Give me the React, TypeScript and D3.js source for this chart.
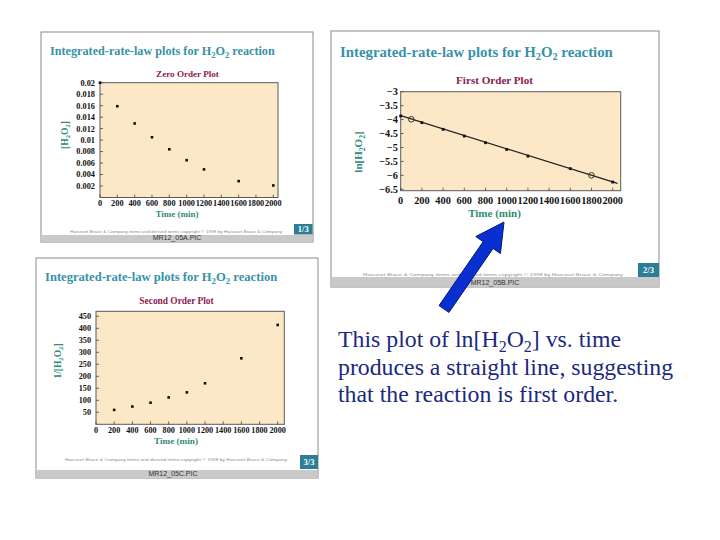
import React from "react";
import * as d3 from "d3";

// ---- data ----
const zeroTimes = [0, 200, 400, 600, 800, 1000, 1200, 1600, 2000];
const zeroConc = [0.02, 0.0159, 0.0129, 0.0105, 0.0084, 0.0065, 0.0049, 0.00285, 0.0021];

const firstTimes = [0, 200, 400, 600, 800, 1000, 1200, 1600, 2000];
const firstLn = [-3.87, -4.11, -4.35, -4.59, -4.83, -5.07, -5.31, -5.76, -6.24];
const firstOpenTimes = [100, 1800];
const firstOpenLn = [-3.99, -6.0];
const firstFitTimes = [0, 2045];
const firstFitLn = [-3.86, -6.29];

const secondTimes = [200, 400, 600, 800, 1000, 1200, 1600, 2000];
const secondInv = [60, 74, 90, 112, 133, 171, 275, 414];

const xTickValues = [0, 200, 400, 600, 800, 1000, 1200, 1400, 1600, 1800, 2000];
const zeroYTicks = [0.002, 0.004, 0.006, 0.008, 0.01, 0.012, 0.014, 0.016, 0.018, 0.02];
const firstYTicks = [-3, -3.5, -4, -4.5, -5, -5.5, -6, -6.5];
const secondYTicks = [50, 100, 150, 200, 250, 300, 350, 400, 450];

const SERIF = "'Liberation Serif', 'Times New Roman', Times, serif";
const TITLE_C = "#3792a9";
const SUB_C = "#8a2150";
const AXLAB_C = "#2f8c78";
const PLOT_FILL = "#fce8c6";
const FOOTER_TEXT = "Harcourt Brace & Company items and derived items copyright \u00a9 1998 by Harcourt Brace & Company";

type Cfg = {
  frame: [number, number, number, number];
  titleX: number; titleY: number; titleSize: number;
  sub: string; subX: number; subY: number; subSize: number;
  plot: [number, number, number, number];
  xRange: [number, number];
  yDomain: [number, number]; yRange: [number, number];
  yTicks: number[]; yFmt: (v: number) => string;
  tickFont: number; yLabX: number; xLabY: number;
  xTitleX: number; xTitleY: number; xTitleSize: number;
  yTitle: [string, string, string, string, string]; yTitleX: number; yTitleY: number; yTitleSize: number;
  footY: number; footX0: number; footX1: number;
  barY0: number; barY1: number; pic: string; picX: number;
  page: [number, number, number, number]; pageText: string;
};

function Panel({ c, children }: { c: Cfg; children: (x: any, y: any) => React.ReactNode }) {
  const [fx, fy, fw, fh] = c.frame;
  const [px0, py0, px1, py1] = c.plot;
  const x = d3.scaleLinear().domain([0, 2000]).range(c.xRange);
  const y = d3.scaleLinear().domain(c.yDomain).range(c.yRange);
  const subSz = c.titleSize * 0.7;
  const ySub = c.yTitleSize * 0.7;
  return (
    <g>
      <rect x={fx} y={fy} width={fw} height={fh} fill="#fff" stroke="#8a8a8a" strokeWidth={1} />
      <text x={c.titleX} y={c.titleY} fontFamily={SERIF} fontWeight="bold" fontSize={c.titleSize} fill={TITLE_C}>
        Integrated-rate-law plots for H
        <tspan fontSize={subSz} dy={c.titleSize * 0.25}>2</tspan>
        <tspan dy={-c.titleSize * 0.25}>O</tspan>
        <tspan fontSize={subSz} dy={c.titleSize * 0.25}>2</tspan>
        <tspan dy={-c.titleSize * 0.25}> reaction</tspan>
      </text>
      <text x={c.subX} y={c.subY} textAnchor="middle" fontFamily={SERIF} fontWeight="bold" fontSize={c.subSize} fill={SUB_C}>
        {c.sub}
      </text>
      <rect x={px0} y={py0} width={px1 - px0} height={py1 - py0} fill={PLOT_FILL} stroke="#5a5a5a" strokeWidth={1} />
      {xTickValues.map((t) => (
        <g key={"xt" + t}>
          <line x1={x(t)} x2={x(t)} y1={py1} y2={py1 - 3} stroke="#444" strokeWidth={0.8} />
          <text x={x(t)} y={c.xLabY} textAnchor="middle" fontFamily={SERIF} fontWeight="bold" fontSize={c.tickFont} fill="#111">
            {t}
          </text>
        </g>
      ))}
      {c.yTicks.map((t) => (
        <g key={"yt" + t}>
          <line x1={px0} x2={px0 + 3} y1={y(t)} y2={y(t)} stroke="#444" strokeWidth={0.8} />
          <text x={c.yLabX} y={y(t) + c.tickFont * 0.35} textAnchor="end" fontFamily={SERIF} fontWeight="bold" fontSize={c.tickFont} fill="#111">
            {c.yFmt(t)}
          </text>
        </g>
      ))}
      {children(x, y)}
      <text x={c.xTitleX} y={c.xTitleY} textAnchor="middle" fontFamily={SERIF} fontWeight="bold" fontSize={c.xTitleSize} fill={AXLAB_C}>
        Time (min)
      </text>
      <text transform={`translate(${c.yTitleX},${c.yTitleY}) rotate(-90)`} textAnchor="middle" fontFamily={SERIF} fontWeight="bold" fontSize={c.yTitleSize} fill={AXLAB_C}>
        {c.yTitle[0]}
        <tspan fontSize={ySub} dy={c.yTitleSize * 0.25}>{c.yTitle[1]}</tspan>
        <tspan dy={-c.yTitleSize * 0.25}>{c.yTitle[2]}</tspan>
        <tspan fontSize={ySub} dy={c.yTitleSize * 0.25}>{c.yTitle[3]}</tspan>
        <tspan dy={-c.yTitleSize * 0.25}>{c.yTitle[4]}</tspan>
      </text>
      <text x={c.footX0} y={c.footY} textLength={c.footX1 - c.footX0} lengthAdjust="spacingAndGlyphs" fontFamily="'Liberation Sans', Arial, sans-serif" fontSize={3.6} fill="#8c8c8c">
        {FOOTER_TEXT}
      </text>
      <rect x={fx + 0.5} y={c.barY0} width={fw - 1} height={c.barY1 - c.barY0} fill="#c9c9c9" />
      <text x={c.picX} y={c.barY1 - 1.8} textAnchor="middle" fontFamily="'Liberation Sans', Arial, sans-serif" fontSize={7} fill="#333">
        {c.pic}
      </text>
      <rect x={c.page[0]} y={c.page[1]} width={c.page[2]} height={c.page[3]} fill="#2b7e96" />
      <text x={c.page[0] + c.page[2] / 2} y={c.page[1] + c.page[3] / 2 + 3} textAnchor="middle" fontFamily={SERIF} fontWeight="bold" fontSize={8.5} fill="#fff">
        {c.pageText}
      </text>
    </g>
  );
}

const fmtZero = (v: number) => String(+v.toFixed(3));
const fmtFirst = (v: number) => (v < 0 ? "\u2212" + String(Math.abs(v)) : String(v));
const fmtPlain = (v: number) => String(v);

const cfg1: Cfg = {
  frame: [41, 32, 272, 210],
  titleX: 50, titleY: 55, titleSize: 12.2,
  sub: "Zero Order Plot", subX: 187.5, subY: 76.7, subSize: 9.1,
  plot: [100, 82.7, 278, 197.5],
  xRange: [100, 273.3],
  yDomain: [0, 0.02], yRange: [197.5, 82.7],
  yTicks: zeroYTicks, yFmt: fmtZero,
  tickFont: 8.3, yLabX: 95, xLabY: 205.5,
  xTitleX: 177, xTitleY: 216.7, xTitleSize: 9,
  yTitle: ["[H", "2", "O", "2", "]"], yTitleX: 68, yTitleY: 135, yTitleSize: 9.5,
  footY: 233, footX0: 70, footX1: 282,
  barY0: 235, barY1: 242, pic: "MR12_05A.PIC", picX: 177,
  page: [294, 224, 18.5, 10.5], pageText: "1/3",
};

const cfg2: Cfg = {
  frame: [331, 31, 328, 256],
  titleX: 340, titleY: 56.7, titleSize: 14.8,
  sub: "First Order Plot", subX: 494.5, subY: 84.3, subSize: 11.1,
  plot: [400.7, 91.7, 620.7, 190.7],
  xRange: [400.7, 612.7],
  yDomain: [-3, -6.5], yRange: [91.7, 189.3],
  yTicks: firstYTicks, yFmt: fmtFirst,
  tickFont: 10.3, yLabX: 398, xLabY: 203.5,
  xTitleX: 494.5, xTitleY: 216.7, xTitleSize: 11,
  yTitle: ["ln[H", "2", "O", "2", "]"], yTitleX: 362, yTitleY: 152, yTitleSize: 11,
  footY: 275.5, footX0: 363, footX1: 623,
  barY0: 277, barY1: 286.5, pic: "MR12_05B.PIC", picX: 495,
  page: [638, 263, 21, 14], pageText: "2/3",
};

const cfg3: Cfg = {
  frame: [36, 258, 282, 220],
  titleX: 45, titleY: 280.7, titleSize: 12.6,
  sub: "Second Order Plot", subX: 176.5, subY: 304, subSize: 9.4,
  plot: [96, 311.3, 284.3, 424.3],
  xRange: [96, 277.7],
  yDomain: [0, 450], yRange: [424.3, 316.3],
  yTicks: secondYTicks, yFmt: fmtPlain,
  tickFont: 8.2, yLabX: 91, xLabY: 433,
  xTitleX: 176, xTitleY: 443.5, xTitleSize: 9.2,
  yTitle: ["1/[H", "2", "O", "2", "]"], yTitleX: 61, yTitleY: 361, yTitleSize: 9.5,
  footY: 461, footX0: 65, footX1: 287,
  barY0: 470, barY1: 478, pic: "MR12_05C.PIC", picX: 173,
  page: [300, 455, 18, 14], pageText: "3/3",
};

function Arrow() {
  const tail: [number, number] = [444, 309];
  const tip: [number, number] = [504, 222];
  const dx = tip[0] - tail[0], dy = tip[1] - tail[1];
  const len = Math.hypot(dx, dy);
  const ux = dx / len, uy = dy / len;
  const nx = -uy, ny = ux;
  const sw = 6, hw = 15, hl = 28;
  const bx = tip[0] - hl * ux, by = tip[1] - hl * uy;
  const pts = [
    [tail[0] - sw * nx, tail[1] - sw * ny],
    [bx - sw * nx, by - sw * ny],
    [bx - hw * nx, by - hw * ny],
    tip,
    [bx + hw * nx, by + hw * ny],
    [bx + sw * nx, by + sw * ny],
    [tail[0] + sw * nx, tail[1] + sw * ny],
  ];
  return <polygon points={pts.map((p) => p.join(",")).join(" ")} fill="#0a2fd0" stroke="#001a7a" strokeWidth={1} />;
}

export default function App() {
  const line = d3.line<number>();
  return (
    <svg width={720} height={540} style={{ position: "absolute", left: 0, top: 0, background: "#fff" }}>
      <rect x={0} y={0} width={720} height={540} fill="#fff" />
      <Panel c={cfg1}>
        {(x, y) =>
          zeroTimes.map((t, i) => <rect key={i} x={x(t) - 1.3} y={y(zeroConc[i]) - 1.3} width={2.6} height={2.6} fill="#111" />)
        }
      </Panel>
      <Panel c={cfg2}>
        {(x, y) => (
          <g>
            <path
              d={line(firstFitTimes.map((t, i) => [x(t), y(firstFitLn[i])]) as any) || ""}
              stroke="#222"
              strokeWidth={1.2}
              fill="none"
            />
            {firstTimes.map((t, i) => (
              <rect key={i} x={x(t) - 1.4} y={y(firstLn[i]) - 1.4} width={2.8} height={2.8} fill="#111" />
            ))}
            {firstOpenTimes.map((t, i) => (
              <circle key={"o" + i} cx={x(t)} cy={y(firstOpenLn[i])} r={2.8} fill="none" stroke="#333" strokeWidth={1} />
            ))}
          </g>
        )}
      </Panel>
      <Panel c={cfg3}>
        {(x, y) =>
          secondTimes.map((t, i) => <rect key={i} x={x(t) - 1.3} y={y(secondInv[i]) - 1.3} width={2.6} height={2.6} fill="#111" />)
        }
      </Panel>
      <Arrow />
      <g fontFamily={SERIF} fontSize={23.8} fill="#1b2a7c">
        <text x={338} y={346.5}>
          This plot of ln[H<tspan fontSize={16} dy={5}>2</tspan>
          <tspan dy={-5}>O</tspan>
          <tspan fontSize={16} dy={5}>2</tspan>
          <tspan dy={-5}>] vs. time</tspan>
        </text>
        <text x={338} y={375}>produces a straight line, suggesting</text>
        <text x={338} y={401.7}>that the reaction is first order.</text>
      </g>
    </svg>
  );
}
